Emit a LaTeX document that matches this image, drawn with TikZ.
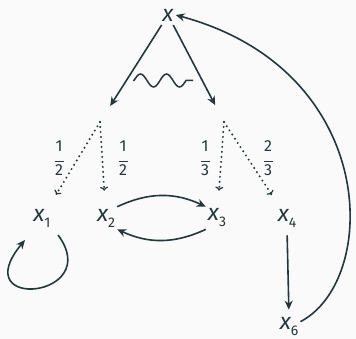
\documentclass[tikz,border=0pt]{standalone}
\usepackage{fontspec}
\setmainfont{Fira Sans}
\usetikzlibrary{arrows.meta}
\definecolor{ink}{RGB}{35,55,60}
\definecolor{bg}{RGB}{250,250,250}
\newcommand{\vx}[1]{{\fontsize{23}{23}\selectfont\itshape x}\raisebox{-6pt}{\fontsize{14}{14}\selectfont #1}}
\newcommand{\fr}[2]{\fontsize{16}{16}\selectfont\begin{tabular}{@{}c@{}}#1\\[-5pt]\rule{9pt}{0.9pt}\\[-3pt]#2\end{tabular}}
\begin{document}
\begin{tikzpicture}[x=1pt,y=-1pt,
  every node/.style={text=ink,inner sep=2pt},
  solidarr/.style={draw=ink,line width=1.6pt,-{Stealth[length=9pt,width=8pt]}},
  dotarr/.style={draw=ink,line width=2.2pt,line cap=round,dash pattern=on 0pt off 5pt,-{To[length=4pt,width=8pt,line width=1.2pt]}},
  plainline/.style={draw=ink,line width=1.6pt}]
\fill[bg] (0,0) rectangle (356,339);
\useasboundingbox (0,0) rectangle (356,339);
\node (x) at (168,15) {\fontsize{23}{23}\selectfont\itshape x};
\coordinate (L) at (100,122);
\coordinate (R) at (224,122);
\node (x1) at (42,218) {\vx{1}};
\node (x2) at (106,218) {\vx{2}};
\node (x3) at (217,218) {\vx{3}};
\node (x4) at (287,218) {\vx{4}};
\node (x6) at (289,327) {\vx{6}};
\node (f1) at (59,160) {\fr{1}{2}};
\node (f2) at (123,160) {\fr{1}{2}};
\node (f3) at (205,160) {\fr{1}{3}};
\node (f4) at (268,160) {\fr{2}{3}};
\draw[solidarr,shorten <=2pt,shorten >=19pt] (x) -- (L);
\draw[solidarr,shorten <=2pt,shorten >=19pt] (x) -- (R);
\coordinate (s1) at (133,80.5);
\coordinate (s2) at (193,80.5);
\draw[ink,line width=1.5pt] (s1) -- (134,80.5) sin (140.5,74) cos (147,80.5) sin (153.5,87) cos (160,80.5) sin (166.5,74) cos (173,80.5) sin (179.5,87) cos (186,80.5) -- (s2);
\draw[dotarr,shorten >=14pt] (L) -- (x1);
\draw[dotarr,shorten >=16pt] (L) -- (x2);
\draw[dotarr,shorten >=16pt] (R) -- (x3);
\draw[dotarr,shorten >=14pt] (R) -- (x4);
\draw[solidarr] (x2.north east) to[bend left=25] (x3.north west);
\draw[solidarr] (x3.south west) to[bend left=25] (x2.south east);
\coordinate (la) at (58,235);
\coordinate (lb) at (25,240);
\draw[solidarr] (la) .. controls (105,298) and (-35,312) .. (lb);
\draw[solidarr,shorten <=6pt,shorten >=6pt] (x4.south) -- (x6.north);
\draw[solidarr] (x6.25) .. controls (380,280) and (380,70) .. (x.east);
\end{tikzpicture}
\end{document}
